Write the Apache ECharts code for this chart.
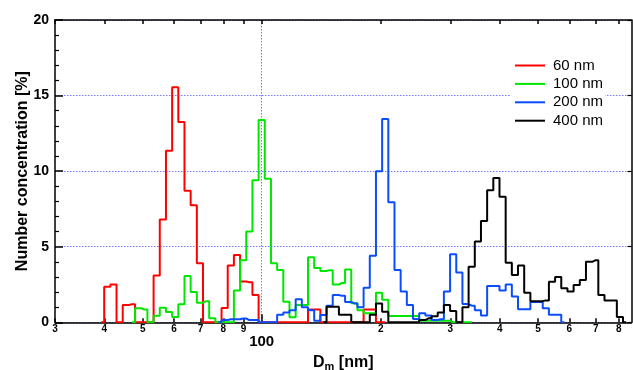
<!DOCTYPE html>
<html><head><meta charset="utf-8">
<script src="https://cdn.jsdelivr.net/npm/echarts@6/dist/echarts.min.js"></script>
<style>html,body{margin:0;padding:0;background:#fff}#c{width:633px;height:370px}</style>
</head><body><div id="c"></div>
<script>
// Size channels: 64 per decade, bin centre log10(D) = channel/64
const CHANNELS_PER_DECADE = 64;
const seriesNames = ['60 nm', '100 nm', '200 nm', '400 nm'];
const seriesColors = ['#ff0000', '#00e600', '#0a4dff', '#000000'];

// first channel index of each series, then number concentration [%] per channel
const red60Start = 102;
const red60 = [0, 2.35, 2.5, 0, 1.15, 1.2, 0, 0, 0, 3.1, 6.8, 11.35, 15.55, 13.25, 8.7, 7.75, 3.9,
  0, 0, 0, 0.95, 3.75, 4.45, 2.7, 2.65, 1.8, 0, 0, 0, 0, 0, 0, 0, 0, 0.85, 0.85,
  0, 0, 0, 0, 0, 0, 0, 0.85, 0.85, 0, 0];

const green100Start = 107;
const green100 = [0, 0.93, 0.85, 0, 0.44, 0.97, 0.68, 0.35, 1.2, 3.06, 2.0, 1.3, 1.4, 0.26,
  0, 0, 0, 2.1, 4.1, 6.0, 9.4, 13.38, 9.5, 3.9, 3.46, 1.36, 0.33, 1.14, 1.14, 4.3, 3.6, 3.4,
  3.45, 2.5, 2.6, 3.5, 1.26, 0.8, 0.6, 0.6, 1.95, 1.5, 0.42, 0.42, 0.42, 0.42, 0.42,
  0.1, 0.1, 0.1, 0.1, 0.1, 0, 0, 0, 0];

const blue200Start = 121;
const blue200 = [0, 0.15, 0.2, 0.2, 0.25, 0.15, 0.15, 0, 0, 0, 0.5, 0.65, 0.8, 1.53, 1.0, 0.8,
  0.1, 0.48, 1.1, 1.8, 1.75, 1.35, 1.25, 1.0, 2.29, 4.41, 10.0, 13.45, 7.94, 3.46, 2.03, 1.14,
  0.22, 0.6, 0.45, 0.15, 0.2, 2.03, 4.5, 3.3, 1.21, 1.1, 0.8, 0.45, 2.4, 2.4, 2.1, 2.5, 1.7,
  0.87, 0.87, 1.35, 1.35, 0.93, 0.5, 0.5, 0];

const black400Start = 138;
const black400 = [0, 1.03, 1.03, 0.5, 0.5, 0, 0, 0, 0.5, 1.25, 0.7, 0, 0, 0, 0, 0,
  0.15, 0.26, 0.4, 0.65, 1.14, 0.75, 0, 1.0, 3.68, 5.35, 6.7, 8.73, 9.55, 8.3, 3.94, 3.13,
  3.75, 1.95, 1.4, 1.4, 1.45, 2.69, 3.0, 2.25, 2.03, 2.47, 2.8, 4.0, 4.1, 1.8, 1.45, 1.45,
  0.35, 0];

// x axis (diameter, nm) and its tick labels
const xMinNm = 30, xMaxNm = 862;
const minorTickNm = [30, 40, 50, 60, 70, 80, 90, 200, 300, 400, 500, 600, 700, 800];
const minorTickLabels = ['3', '4', '5', '6', '7', '8', '9', '2', '3', '4', '5', '6', '7', '8'];
const majorTickNm = [100];
const majorTickLabels = ['100'];
const yTicks = [0, 5, 10, 15, 20];

const lg = Math.log10;
const FONT = 'Arial, "Liberation Sans", sans-serif';

function toData(start, vals) {
  return vals.map((v, i) => [(start + i) / CHANNELS_PER_DECADE, v]);
}
const allSeries = [
  toData(red60Start, red60), toData(green100Start, green100),
  toData(blue200Start, blue200), toData(black400Start, black400)
];

const xmin = lg(xMinNm), xmax = lg(xMaxNm);
const minorVals = minorTickNm.map(lg);
const majorVals = majorTickNm.map(lg);
function nearestLabel(vals, labels, v) {
  let b = 0, d = 1e9;
  vals.forEach((t, i) => { if (Math.abs(t - v) < d) { d = Math.abs(t - v); b = i; } });
  return labels[b];
}
const dotted = { color: 'rgb(120,120,255)', width: 1, type: [1.5, 1.5], opacity: 1 };

const chart = echarts.init(document.getElementById('c'), null, { renderer: 'canvas' });
chart.setOption({
  animation: false,
  backgroundColor: '#fff',
  textStyle: { fontFamily: FONT },
  grid: { left: 55, right: 1.5, top: 20, bottom: 47.7, containLabel: false, outerBoundsMode: 'none' },
  legend: {
    data: seriesNames,
    orient: 'vertical',
    left: 511, top: 55,
    backgroundColor: '#fff',
    padding: [3, 2, 3, 4],
    itemGap: 3.4,
    itemWidth: 30, itemHeight: 2,
    icon: 'rect',
    textStyle: { fontSize: 15, color: '#000', fontFamily: FONT, padding: [0, 0, 0, 3] }
  },
  xAxis: [
    {
      type: 'value', min: xmin, max: xmax, position: 'bottom',
      axisLine: { show: true, onZero: false, lineStyle: { color: '#000', width: 1.5 } },
      axisTick: { show: true, inside: true, length: 4, customValues: minorVals, lineStyle: { color: '#000', width: 1.5 } },
      axisLabel: {
        show: true, customValues: minorVals, margin: 2,
        fontSize: 10, fontWeight: 'bold', color: '#000', fontFamily: FONT,
        formatter: v => nearestLabel(minorVals, minorTickLabels, v)
      },
      splitLine: { show: false },
      name: '{a|D}{s|m}{a| [nm]}', nameLocation: 'middle', nameGap: 31, nameMoveOverlap: false,
      nameTextStyle: {
        rich: {
          a: { fontSize: 16, fontWeight: 'bold', color: '#000', fontFamily: FONT },
          s: { fontSize: 11, fontWeight: 'bold', color: '#000', fontFamily: FONT, padding: [8, 0, 0, 0] }
        }
      }
    },
    {
      type: 'value', min: xmin, max: xmax, position: 'top',
      axisLine: { show: true, onZero: false, lineStyle: { color: '#000', width: 1.5 } },
      axisTick: { show: true, inside: true, length: 4, customValues: minorVals.concat(majorVals), lineStyle: { color: '#000', width: 1.5 } },
      axisLabel: { show: false },
      splitLine: { show: false }
    },
    {
      type: 'value', min: xmin, max: xmax, position: 'bottom',
      axisLine: { show: false },
      axisTick: { show: true, inside: true, length: 8, customValues: majorVals, lineStyle: { color: '#000', width: 1.5 } },
      axisLabel: {
        show: true, customValues: majorVals, margin: 12,
        fontSize: 15, fontWeight: 'bold', color: '#000', fontFamily: FONT,
        formatter: v => nearestLabel(majorVals, majorTickLabels, v)
      },
      splitLine: { show: true, lineStyle: dotted }
    }
  ],
  yAxis: [
    {
      type: 'value', min: 0, max: 20, interval: 5, position: 'left',
      axisLine: { show: true, onZero: false, lineStyle: { color: '#000', width: 1.5 } },
      axisTick: { show: true, inside: true, length: 8, lineStyle: { color: '#000', width: 1.5 } },
      minorTick: { show: true, splitNumber: 5, length: 4, lineStyle: { color: '#000', width: 1.2 } },
      axisLabel: { show: true, margin: 6, fontSize: 14, fontWeight: 'bold', color: '#000', fontFamily: FONT,
        customValues: yTicks },
      splitLine: { show: true, lineStyle: dotted },
      name: 'Number concentration [%]', nameLocation: 'middle', nameGap: 24, nameMoveOverlap: false,
      nameTextStyle: { fontSize: 16, fontWeight: 'bold', color: '#000', fontFamily: FONT }
    },
    {
      type: 'value', min: 0, max: 20, interval: 5, position: 'right',
      axisLine: { show: true, onZero: false, lineStyle: { color: '#000', width: 1.5 } },
      axisTick: { show: true, inside: true, length: 4, lineStyle: { color: '#000', width: 1.2 } },
      axisLabel: { show: false },
      splitLine: { show: false }
    }
  ],
  series: allSeries.map((d, i) => ({
    name: seriesNames[i],
    type: 'line',
    step: 'middle',
    xAxisIndex: 0, yAxisIndex: 0,
    data: d,
    showSymbol: false,
    symbol: 'none',
    color: seriesColors[i],
    lineStyle: { color: seriesColors[i], width: 2 },
    z: 3 + i
  }))
});
</script>
</body></html>
